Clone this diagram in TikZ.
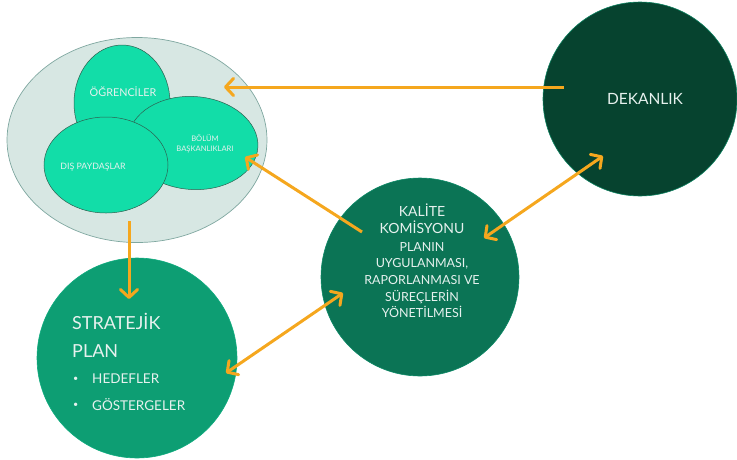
\documentclass[tikz,border=0pt]{standalone}
\usepackage{fontspec}
\setmainfont{Lato}
\usetikzlibrary{shapes.geometric,arrows.meta}
\definecolor{dekc}{HTML}{06432F}
\definecolor{kalc}{HTML}{0B7455}
\definecolor{strc}{HTML}{0D9E73}
\definecolor{grpc}{HTML}{D7E7E3}
\definecolor{grpline}{HTML}{7FA7A0}
\definecolor{subc}{HTML}{12DDA8}
\definecolor{subline}{HTML}{2E5F4F}
\definecolor{arrc}{HTML}{F5A71E}
\definecolor{txtc}{HTML}{E6F1EE}
\tikzset{
  bigcircle/.style={circle, inner sep=0pt, line width=0.6pt},
  subell/.style={ellipse, inner sep=0pt, fill=subc, draw=subline, line width=0.5pt},
  lbl/.style={text=txtc, inner sep=0pt, align=center},
  tipx/.tip={Straight Barb[length=8pt,width=17pt,round]},
  conn/.style={draw=arrc, line width=3pt, -tipx},
  conn2/.style={draw=arrc, line width=3pt, tipx-tipx},
}
\begin{document}
\begin{tikzpicture}[x=1pt,y=-1pt]
\useasboundingbox (0,0) rectangle (737,459);
% group ellipse
\node[ellipse, inner sep=0pt, minimum width=260pt, minimum height=205pt, fill=grpc, draw=grpline, line width=0.7pt] (grp) at (137,140) {};
\node[subell, minimum width=96pt, minimum height=116pt] (ogr) at (122,103) {};
\node[subell, minimum width=130pt, minimum height=93pt, rotate=-4] (bol) at (193,143) {};
\node[subell, minimum width=124pt, minimum height=96pt] (dis) at (106,165) {};
\node[lbl, font=\fontsize{10.8}{12}\selectfont] (ogrt) at (123,92) {ÖĞRENCİLER};
\node[lbl, font=\fontsize{7.6}{9.5}\selectfont] (bolt) at (205,144) {BÖLÜM\\BAŞKANLIKLARI};
\node[lbl, font=\fontsize{8.8}{10}\selectfont] (dist) at (93,167) {DIŞ PAYDAŞLAR};
% big circles
\node[bigcircle, fill=dekc, draw=dekc!60!subc, minimum size=194pt] (dek) at (640,99) {};
\node[lbl, font=\fontsize{15.5}{18}\selectfont] (dekt) at (645,99) {DEKANLIK};
\node[bigcircle, fill=kalc, draw=kalc!80!subc, minimum size=198pt] (kal) at (420,277) {};
\node[lbl, font=\fontsize{14}{17}\selectfont] (kalt) at (422,219) {KALİTE\\KOMİSYONU};
\node[lbl, font=\fontsize{12.5}{16.6}\selectfont] (kald) at (422,280) {PLANIN\\UYGULANMASI,\\RAPORLANMASI VE\\SÜREÇLERİN\\YÖNETİLMESİ};
\node[bigcircle, fill=strc, draw=strc!80!subc, minimum size=200pt] (str) at (137,358) {};
\node[lbl, anchor=west, font=\fontsize{18}{20}\selectfont] (strt1) at (72,321) {STRATEJİK};
\node[lbl, anchor=west, font=\fontsize{18}{20}\selectfont] (strt2) at (72,351) {PLAN};
\node[lbl, anchor=west, font=\fontsize{9}{10}\selectfont] (b1) at (73,379) {•};
\node[lbl, anchor=west, font=\fontsize{13.5}{16}\selectfont] (h1) at (92,379) {HEDEFLER};
\node[lbl, anchor=west, font=\fontsize{9}{10}\selectfont] (b2) at (73,405) {•};
\node[lbl, anchor=west, font=\fontsize{13.5}{16}\selectfont] (h2) at (92,405) {GÖSTERGELER};
% connector end points
\coordinate (c1s) at (564,87);
\coordinate (c1e) at (224,87);
\coordinate (c2s) at (362,232);
\coordinate (c2e) at (245,157);
\coordinate (c3s) at (129,221);
\coordinate (c3e) at (129,299);
\coordinate (c4a) at (226,373);
\coordinate (c4b) at (343,293);
\coordinate (c5a) at (484,238);
\coordinate (c5b) at (603,156);
\draw[conn] (c1s) -- (c1e);
\draw[conn] (c2s) -- (c2e);
\draw[conn] (c3s) -- (c3e);
\draw[conn2] (c4a) -- (c4b);
\draw[conn2] (c5a) -- (c5b);
\end{tikzpicture}
\end{document}
